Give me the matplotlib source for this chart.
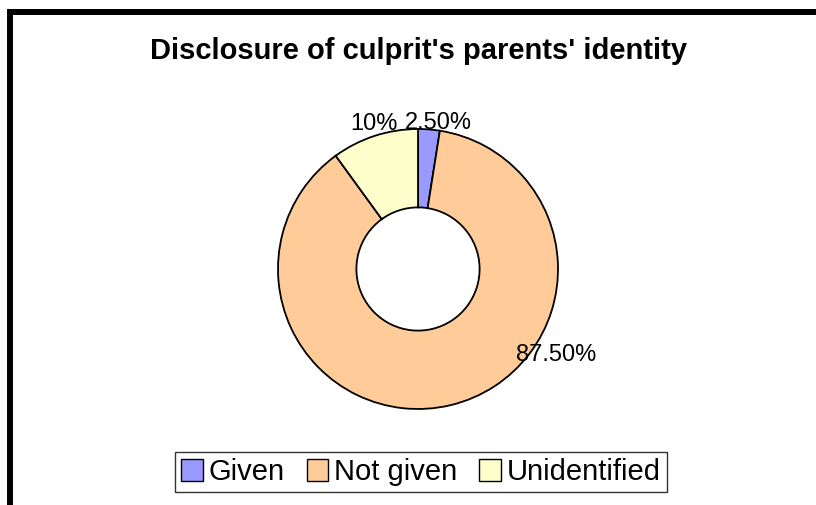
import matplotlib
matplotlib.use("Agg")
import matplotlib.pyplot as plt
import numpy as np
from matplotlib.lines import Line2D
from matplotlib.patches import Patch

categories = ["Given", "Not given", "Unidentified"]
values = [2.5, 87.5, 10.0]
value_labels = ["2.50%", "87.50%", "10%"]
colors = ["#9999FF", "#FFCC99", "#FFFFCC"]
title = "Disclosure of culprit's parents' identity"

plt.rcParams['font.family'] = ['Liberation Sans', 'DejaVu Sans']

W, H = 816, 505
fig = plt.figure(figsize=(W / 100, H / 100), dpi=100)

# pie axes: center (418,269) px, radius 140 px
cx, cy, R = 418, 269, 140
half = 200
ax = fig.add_axes([(cx - half) / W, (H - cy - half) / H, 2 * half / W, 2 * half / H])

wedges, _ = ax.pie(values, colors=colors, startangle=90, counterclock=False,
                   radius=1.0, wedgeprops=dict(width=0.56, edgecolor='black', linewidth=1.3))
lim = half / R
ax.set_xlim(-lim, lim)
ax.set_ylim(-lim, lim)
ax.set_aspect('equal')
ax.axis('off')

# label placement (angle offsets in degrees, radial distance)
offsets = {"Given": (-3.5, 1.05), "Not given": (44.5, 1.16), "Unidentified": (-1.0, 1.08)}
for w, cat, lab in zip(wedges, categories, value_labels):
    mid = (w.theta1 + w.theta2) / 2
    doff, dist = offsets[cat]
    a = np.deg2rad(mid + doff)
    ax.text(dist * np.cos(a), dist * np.sin(a), lab, ha='center', va='center', fontsize=17)

fig.text(419 / W, 1 - 51 / H, title, ha='center', va='center', fontsize=21, fontweight='bold')

handles = [Patch(facecolor=c, edgecolor='black', linewidth=1.0) for c in colors]
leg = fig.legend(handles, categories, loc='center', bbox_to_anchor=(421 / W, 1 - 472 / H),
                 ncol=3, frameon=True, fontsize=21, handlelength=0.75, handleheight=0.75,
                 handletextpad=0.2, columnspacing=0.75, borderpad=0.2, fancybox=False,
                 edgecolor='black', borderaxespad=0)
leg.get_frame().set_linewidth(1.0)

# outer chart frame (top and left edges visible)
fig.add_artist(Line2D([7 / W, 1.0], [1 - 12 / H, 1 - 12 / H], color='black', linewidth=4.3,
                      transform=fig.transFigure, solid_capstyle='butt'))
fig.add_artist(Line2D([10 / W, 10 / W], [0.0, 1 - 9 / H], color='black', linewidth=4.3,
                      transform=fig.transFigure, solid_capstyle='butt'))

fig.savefig("out.png", dpi=100, facecolor='white')
